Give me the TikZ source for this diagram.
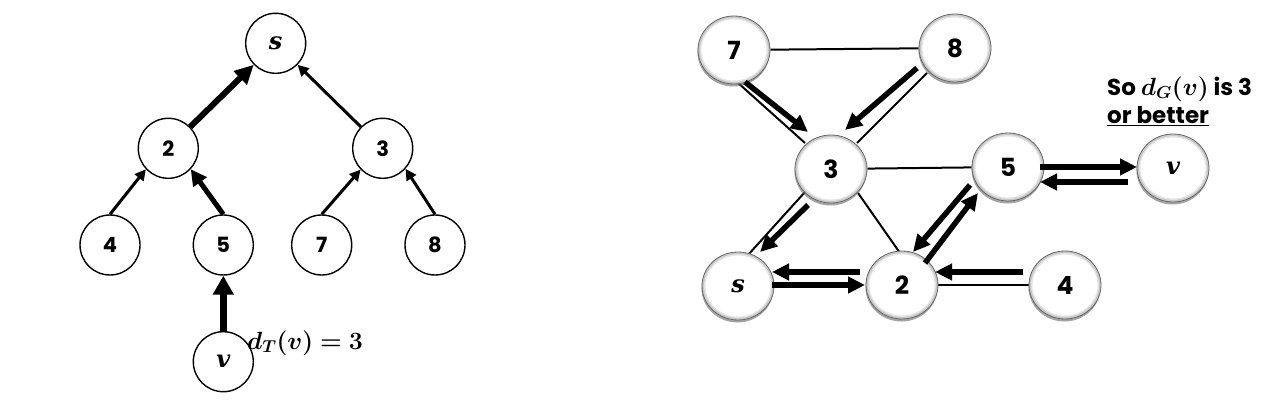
\documentclass[tikz,border=0pt]{standalone}
\usepackage{bm}
\usepackage{fontspec}
\setsansfont{Poppins}
\newfontfamily\letterfont{DejaVu Serif}
\usetikzlibrary{arrows.meta,shapes.geometric,backgrounds,shadows}
\newcommand{\tfont}{\sffamily\bfseries\fontsize{21pt}{21pt}\selectfont}
\newcommand{\gfont}{\sffamily\bfseries\fontsize{25pt}{25pt}\selectfont}
\newcommand{\lfont}{\sffamily\bfseries\fontsize{23pt}{28pt}\selectfont}
\newcommand{\mfont}{\fontsize{23pt}{23pt}\selectfont}
\newcommand{\nodeletter}[1]{{\letterfont\bfseries\itshape\fontsize{24pt}{24pt}\selectfont #1}}
\begin{document}
\begin{tikzpicture}[x=1pt,y=-1pt]
\tikzset{
  tnode/.style={circle, draw, line width=1.4pt, minimum size=60pt, inner sep=0pt, fill=white, font=\tfont},
  gnode/.style={ellipse, draw=black!60, line width=0.8pt, minimum width=72pt, minimum height=68pt,
    inner sep=0pt, fill=white, font=\gfont,
    path picture={
      \draw[black!10, line width=5pt] (path picture bounding box.center) ellipse [x radius=35pt, y radius=33pt];
      \draw[black!22, line width=2pt] (path picture bounding box.center) ellipse [x radius=35pt, y radius=33pt];
    },
    drop shadow={shadow xshift=-0.5pt, shadow yshift=-2.5pt, fill=black!60, opacity=0.6}},
  thinl/.style={line width=2pt},
  ahuge/.style={line width=7pt, -{Triangle[length=19pt,width=20pt]}},
  abig/.style={line width=6pt, -{Triangle[length=19pt,width=18pt]}},
  amid/.style={line width=5pt, -{Triangle[length=16pt,width=16pt]}},
  asmall/.style={line width=3pt, -{Triangle[length=11pt,width=11pt]}},
  ga/.style={line width=5.5pt, -{Triangle[length=17pt,width=16pt]}}
}
\useasboundingbox (0,0) rectangle (1274,406);
% ---------- left tree ----------
\node[tnode] (ts) at (275.7,43.3) {\nodeletter{s}};
\node[tnode] (t2) at (168.3,148.3) {2};
\node[tnode] (t3) at (382.7,148.3) {3};
\node[tnode] (t4) at (110,245) {4};
\node[tnode] (t5) at (223.3,245) {5};
\node[tnode] (t7) at (321.7,245) {7};
\node[tnode] (t8) at (435,245) {8};
\node[tnode] (tv) at (223.3,361.7) {\nodeletter{v}};
\draw[abig] (t2) -- (ts);
\draw[asmall] (t3) -- (ts);
\draw[asmall] (t4.north) -- (t2.-137);
\draw[amid] (t5.north) -- (t2.-43);
\draw[asmall] (t7.north) -- (t3.-136);
\draw[asmall] (t8.north) -- (t3.-42);
\draw[ahuge] (tv.north) -- (t5.south);
\node[font=\mfont, inner sep=0pt] (dt) at (305,343) {$\bm{d_T(v)=3}$};
% ---------- right graph ----------
\node[gnode] (g7) at (734,50) {7};
\node[gnode] (g8) at (955,48) {8};
\node[gnode] (g3) at (831,169) {3};
\node[gnode] (g5) at (1008,167) {5};
\node[gnode] (gv) at (1173,168) {\nodeletter{v}};
\node[gnode] (gs) at (738,286) {\nodeletter{s}};
\node[gnode] (g2) at (902,285) {2};
\node[gnode] (g4) at (1065,285) {4};
\begin{scope}[on background layer]
\draw[thinl] (g7) -- (g8);
\draw[thinl] ([shift={(3,32)}]g7.center) -- ([shift={(-26,-26)}]g3.center);
\draw[thinl] ([shift={(-28,25)}]g8.center) -- ([shift={(26,-26)}]g3.center);
\draw[thinl] (g3) -- (g5);
\draw[thinl] ([shift={(27,24)}]g3.center) -- ([shift={(-2,-32)}]g2.center);
\draw[thinl] ([shift={(-26,23)}]g3.center) -- ([shift={(10,-31)}]gs.center);
\draw[thinl] (g2) -- (g4);
\end{scope}
\draw[ga] ([shift={(11,32)}]g7.center) -- ([shift={(-23,-37)}]g3.center);
\draw[ga] ([shift={(-38,20)}]g8.center) -- ([shift={(14,-39)}]g3.center);
\draw[ga] ([shift={(-23,36)}]g3.center) -- ([shift={(22,-34)}]gs.center);
\draw[ga] ([shift={(-42,-13)}]g2.center) -- ([shift={(34,-14)}]gs.center);
\draw[ga] ([shift={(34,-1)}]gs.center) -- ([shift={(-37,0)}]g2.center);
\draw[ga] ([shift={(-42,-13)}]g4.center) -- ([shift={(33,-13)}]g2.center);
\draw[ga] ([shift={(-38,18)}]g5.center) -- ([shift={(11,-33)}]g2.center);
\draw[ga] ([shift={(23,-22)}]g2.center) -- ([shift={(-30,26)}]g5.center);
\draw[ga] ([shift={(32,0)}]g5.center) -- ([shift={(-36,-1)}]gv.center);
\draw[ga] ([shift={(-45,14)}]gv.center) -- ([shift={(32,15)}]g5.center);
\node[anchor=west, align=left, inner sep=0pt, font=\lfont] (lbl) at (1107,101)
  {So $\bm{d_G(v)}$ is 3\\\underline{or better}};
\end{tikzpicture}
\end{document}
